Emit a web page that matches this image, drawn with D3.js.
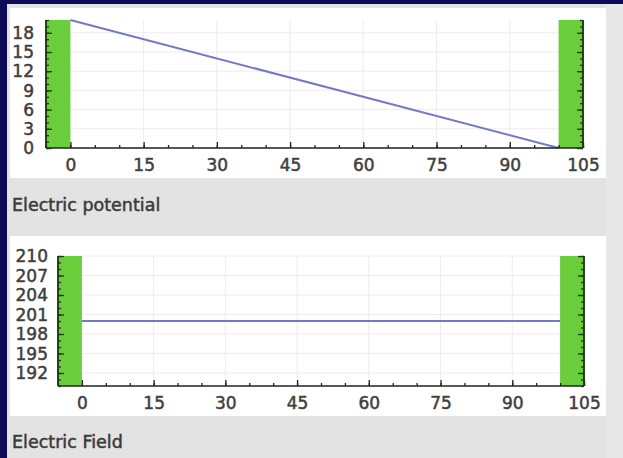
<!DOCTYPE html>
<html>
<head>
<meta charset="utf-8">
<script src="https://cdn.jsdelivr.net/npm/d3@7"></script>
<style>
  html, body { margin: 0; padding: 0; background: #0b0b58; }
  svg { display: block; }
</style>
</head>
<body>
<svg id="chart" width="623" height="458"></svg>
<script>
// ---- data ----
const xTickValues = [0, 15, 30, 45, 60, 75, 90, 105];
const plates = [[-5, 0], [100, 105]];
const potentialX = [0, 100];
const potentialY = [20, 0];
const potentialTicks = [0, 3, 6, 9, 12, 15, 18];
const fieldX = [0, 100];
const fieldY = [200, 200];
const fieldTicks = [192, 195, 198, 201, 204, 207, 210];
const titles = ["Electric potential", "Electric Field"];

const svg = d3.select("#chart");
const FONT = "DejaVu Sans, Verdana, sans-serif";
const TXT = "#404040";

// background
svg.append("rect").attr("x", 7).attr("y", 4).attr("width", 616).attr("height", 454).attr("fill", "#e3e3e3");
svg.append("rect").attr("x", 606).attr("y", 4).attr("width", 17).attr("height", 454).attr("fill", "#e8e8e8");

function drawChart(cfg) {
  const g = svg.append("g");
  g.append("rect").attr("x", 10).attr("y", cfg.boxTop).attr("width", 596).attr("height", cfg.boxH).attr("fill", "#ffffff");

  const x = d3.scaleLinear().domain([-5, 105]).range(cfg.xr);
  const y = d3.scaleLinear().domain(cfg.yd).range(cfg.yr);

  // grid
  const grid = g.append("g");
  grid.selectAll("line.h").data(cfg.yTicks).join("line")
    .attr("x1", x(0)).attr("x2", x(100))
    .attr("y1", d => y(d)).attr("y2", d => y(d))
    .attr("stroke", "#ececf2").attr("stroke-width", 1);
  grid.selectAll("line.v").data(xTickValues.filter(v => v > 0 && v < 100)).join("line")
    .attr("x1", d => x(d)).attr("x2", d => x(d))
    .attr("y1", cfg.yr[1]).attr("y2", cfg.yr[0])
    .attr("stroke", "#ececf2").attr("stroke-width", 1);

  // plates
  g.selectAll("rect.plate").data(plates).join("rect")
    .attr("x", d => x(d[0])).attr("width", d => x(d[1]) - x(d[0]))
    .attr("y", cfg.yr[1]).attr("height", cfg.yr[0] - cfg.yr[1])
    .attr("fill", "#6acd3b");

  // data line
  const pts = cfg.xs.map((v, i) => [v, cfg.ys[i]]);
  g.append("path").datum(pts)
    .attr("d", d3.line().x(d => x(d[0])).y(d => y(d[1])))
    .attr("fill", "none").attr("stroke", "#7379c6").attr("stroke-width", 2);

  // x axis
  const minorX = d3.range(-5, 106, 5);
  const xa = g.append("g").attr("transform", `translate(0,${cfg.yr[0]})`);
  xa.call(d3.axisBottom(x).tickValues(minorX).tickSize(-3).tickFormat(""));
  xa.call(g2 => g2.select(".domain").remove());
  const xa2 = g.append("g").attr("transform", `translate(0,${cfg.yr[0]})`);
  xa2.call(d3.axisBottom(x).tickValues(xTickValues).tickSize(-6).tickPadding(0).tickFormat(d3.format("d")));
  xa2.selectAll("text").attr("y", cfg.xLabelDy).attr("dy", "0.35em");
  [xa, xa2].forEach(a => {
    a.selectAll("line").attr("stroke", "#222").attr("stroke-width", 1.3);
    a.selectAll(".domain").attr("stroke", "#222").attr("stroke-width", 1.5);
  });
  xa2.select(".domain").attr("d", `M${cfg.xr[0]},0H${cfg.xr[1]}`);

  // left y axis (ticks into plot) at plate left edge
  const minorY = d3.range(cfg.yd[0], cfg.yd[1] + 0.001, 1);
  const ya = g.append("g").attr("transform", `translate(${cfg.xr[0]},0)`);
  ya.call(d3.axisRight(y).tickValues(minorY).tickSize(3).tickFormat(""));
  const ya2 = g.append("g").attr("transform", `translate(${cfg.xr[0]},0)`);
  ya2.call(d3.axisRight(y).tickValues(cfg.yTicks).tickSize(6).tickFormat(""));
  // right y axis
  const yr = g.append("g").attr("transform", `translate(${cfg.xr[1]},0)`);
  yr.call(d3.axisLeft(y).tickValues(minorY).tickSize(3).tickFormat(""));
  const yr2 = g.append("g").attr("transform", `translate(${cfg.xr[1]},0)`);
  yr2.call(d3.axisLeft(y).tickValues(cfg.yTicks).tickSize(6).tickFormat(""));
  [ya, ya2, yr, yr2].forEach(a => {
    a.selectAll("line").attr("stroke", "#1c3a10").attr("stroke-width", 1.3);
    a.select(".domain").attr("stroke", "#1c3a10").attr("stroke-width", 1.5).attr("d", `M0,${cfg.yr[0]}V${cfg.yr[1]}`);
  });

  // y labels
  g.append("g").selectAll("text").data(cfg.yTicks).join("text")
    .attr("x", cfg.yLabelX).attr("y", d => y(d)).attr("dy", "0.36em")
    .attr("text-anchor", "end")
    .text(d => d);

  g.selectAll("text")
    .attr("font-family", FONT).attr("font-size", 17).attr("fill", TXT)
    .attr("stroke", TXT).attr("stroke-width", 0.5);

  // title
  svg.append("text").attr("x", 12).attr("y", cfg.titleY).attr("dy", "0.35em")
    .attr("font-family", FONT).attr("font-size", 17.5).attr("fill", "#3a3a3a")
    .attr("stroke", "#3a3a3a").attr("stroke-width", 0.5)
    .text(cfg.title);
}

drawChart({
  boxTop: 8, boxH: 170,
  xr: [46, 583], yd: [0, 20], yr: [148, 20],
  yTicks: potentialTicks, xs: potentialX, ys: potentialY,
  yLabelX: 34, xLabelDy: 17, titleY: 205, title: titles[0]
});
drawChart({
  boxTop: 236, boxH: 180,
  xr: [58, 584], yd: [190, 210], yr: [386, 256],
  yTicks: fieldTicks, xs: fieldX, ys: fieldY,
  yLabelX: 48, xLabelDy: 17, titleY: 442, title: titles[1]
});
</script>
</body>
</html>
